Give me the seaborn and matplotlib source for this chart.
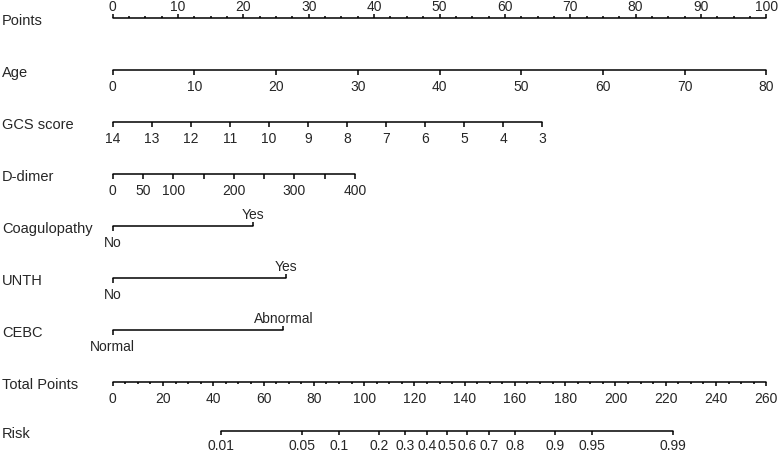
import numpy as np
import pandas as pd
import seaborn as sns
import matplotlib
matplotlib.use("Agg")
import matplotlib.pyplot as plt

# ---- data ----
row_names = ["Points", "Age", "GCS score", "D-dimer", "Coagulopathy", "UNTH", "CEBC",
             "Total Points", "Risk"]

age_values = [0, 10, 20, 30, 40, 50, 60, 70, 80]
age_max_points = 100.0          # points at age 80

gcs_values = [14, 13, 12, 11, 10, 9, 8, 7, 6, 5, 4, 3]
gcs_max_points = 65.75          # points at GCS 3

ddimer_values = [0, 50, 100, 150, 200, 250, 300, 350, 400]
ddimer_labels = [0, 50, 100, 200, 300, 400]
ddimer_max_points = 37.05       # points at D-dimer 400

coag_levels = ["No", "Yes"]
coag_points = [0, 21.4]
unth_levels = ["No", "Yes"]
unth_points = [0, 26.5]
cebc_levels = ["Normal", "Abnormal"]
cebc_points = [0, 26.1]

total_major = list(range(0, 261, 20))
total_max = 260

risk_values = [0.01, 0.05, 0.1, 0.2, 0.3, 0.4, 0.5, 0.6, 0.7, 0.8, 0.9, 0.95, 0.99]
risk_tp_at_01 = 43.0            # total points where risk = 0.01
risk_tp_at_99 = 223.0           # total points where risk = 0.99

# ---- layout ----
W, H = 778, 456
x0_px, x100_px = 112.7, 766.3
px_per_pt = (x100_px - x0_px) / 100
row_y = [19, 71, 123, 175, 227, 279, 331, 383, 432]
major_len, minor_len = 4.5, 2.5
fs_name = 10.5
fs_tick = 10
lw = 1.1

sns.set_style("white")
plt.rcParams["font.family"] = ["Liberation Sans", "DejaVu Sans"]

fig = plt.figure(figsize=(W / 100, H / 100), dpi=100)
ax = fig.add_axes([0, 0, 1, 1])
ax.set_xlim(-x0_px / px_per_pt, (W - x0_px) / px_per_pt)
ax.set_ylim(H, 0)
ax.axis("off")


def scale_line(y, x_start, x_end):
    seg = pd.DataFrame({"x": [x_start, x_end], "y": [y, y]})
    sns.lineplot(data=seg, x="x", y="y", ax=ax, color="black", linewidth=lw,
                 estimator=None, sort=False, legend=False)


def ticks(y, xs, length, up):
    sign = -1 if up else 1
    ax.vlines(xs, y, y + sign * length, color="black", linewidth=lw)


def labels(y, xs, texts, up, below_off=20):
    base = y - 8 if up else y + below_off
    for x, t in zip(xs, texts):
        ax.text(x, base, t, ha="center", va="baseline", fontsize=fs_tick)


# row names
for name, y in zip(row_names, row_y):
    ax.text(-x0_px / px_per_pt + 2 / px_per_pt, y + 2, name, ha="left", va="center",
            fontsize=fs_name)

# Points
y = row_y[0]
scale_line(y, 0, 100)
ticks(y, np.arange(0, 101, 10), major_len, True)
ticks(y, [v for v in np.arange(0, 100.1, 2.5) if v % 10], minor_len, True)
labels(y, np.arange(0, 101, 10), [str(v) for v in range(0, 101, 10)], True)

# Age
y = row_y[1]
age_x = [v / age_values[-1] * age_max_points for v in age_values]
scale_line(y, age_x[0], age_x[-1])
ticks(y, age_x, major_len, False)
labels(y, age_x, [str(v) for v in age_values], False)

# GCS score
y = row_y[2]
gcs_x = [(gcs_values[0] - v) / (gcs_values[0] - gcs_values[-1]) * gcs_max_points
         for v in gcs_values]
scale_line(y, gcs_x[0], gcs_x[-1])
ticks(y, gcs_x, major_len, False)
labels(y, gcs_x, [str(v) for v in gcs_values], False)

# D-dimer
y = row_y[3]
dd_x = [v / ddimer_values[-1] * ddimer_max_points for v in ddimer_values]
scale_line(y, dd_x[0], dd_x[-1])
ticks(y, dd_x, major_len, False)
labels(y, [v / ddimer_values[-1] * ddimer_max_points for v in ddimer_labels],
       [str(v) for v in ddimer_labels], False)

# categorical rows
for y, levels, pts in [(row_y[4], coag_levels, coag_points),
                       (row_y[5], unth_levels, unth_points),
                       (row_y[6], cebc_levels, cebc_points)]:
    scale_line(y, pts[0], pts[1])
    ticks(y, [pts[0]], major_len, False)
    ticks(y, [pts[1]], major_len, True)
    labels(y, [pts[0]], [levels[0]], False)
    labels(y, [pts[1]], [levels[1]], True)

# Total Points
y = row_y[7]
to_pts = 100 / total_max
scale_line(y, 0, 100)
ticks(y, [v * to_pts for v in total_major], major_len, False)
ticks(y, [v * to_pts for v in range(0, total_max + 1, 5) if v % 20], minor_len, False)
labels(y, [v * to_pts for v in total_major], [str(v) for v in total_major], False)

# Risk
y = row_y[8]
mid = (risk_tp_at_01 + risk_tp_at_99) / 2
slope = np.log(0.99 / 0.01) / (risk_tp_at_99 - mid)
risk_tp = [mid + np.log(p / (1 - p)) / slope for p in risk_values]
risk_x = [v * to_pts for v in risk_tp]
scale_line(y, risk_x[0], risk_x[-1])
ticks(y, risk_x, major_len, False)
labels(y, risk_x, [f"{p:g}" for p in risk_values], False, below_off=18)

fig.savefig("out.png", dpi=100)
